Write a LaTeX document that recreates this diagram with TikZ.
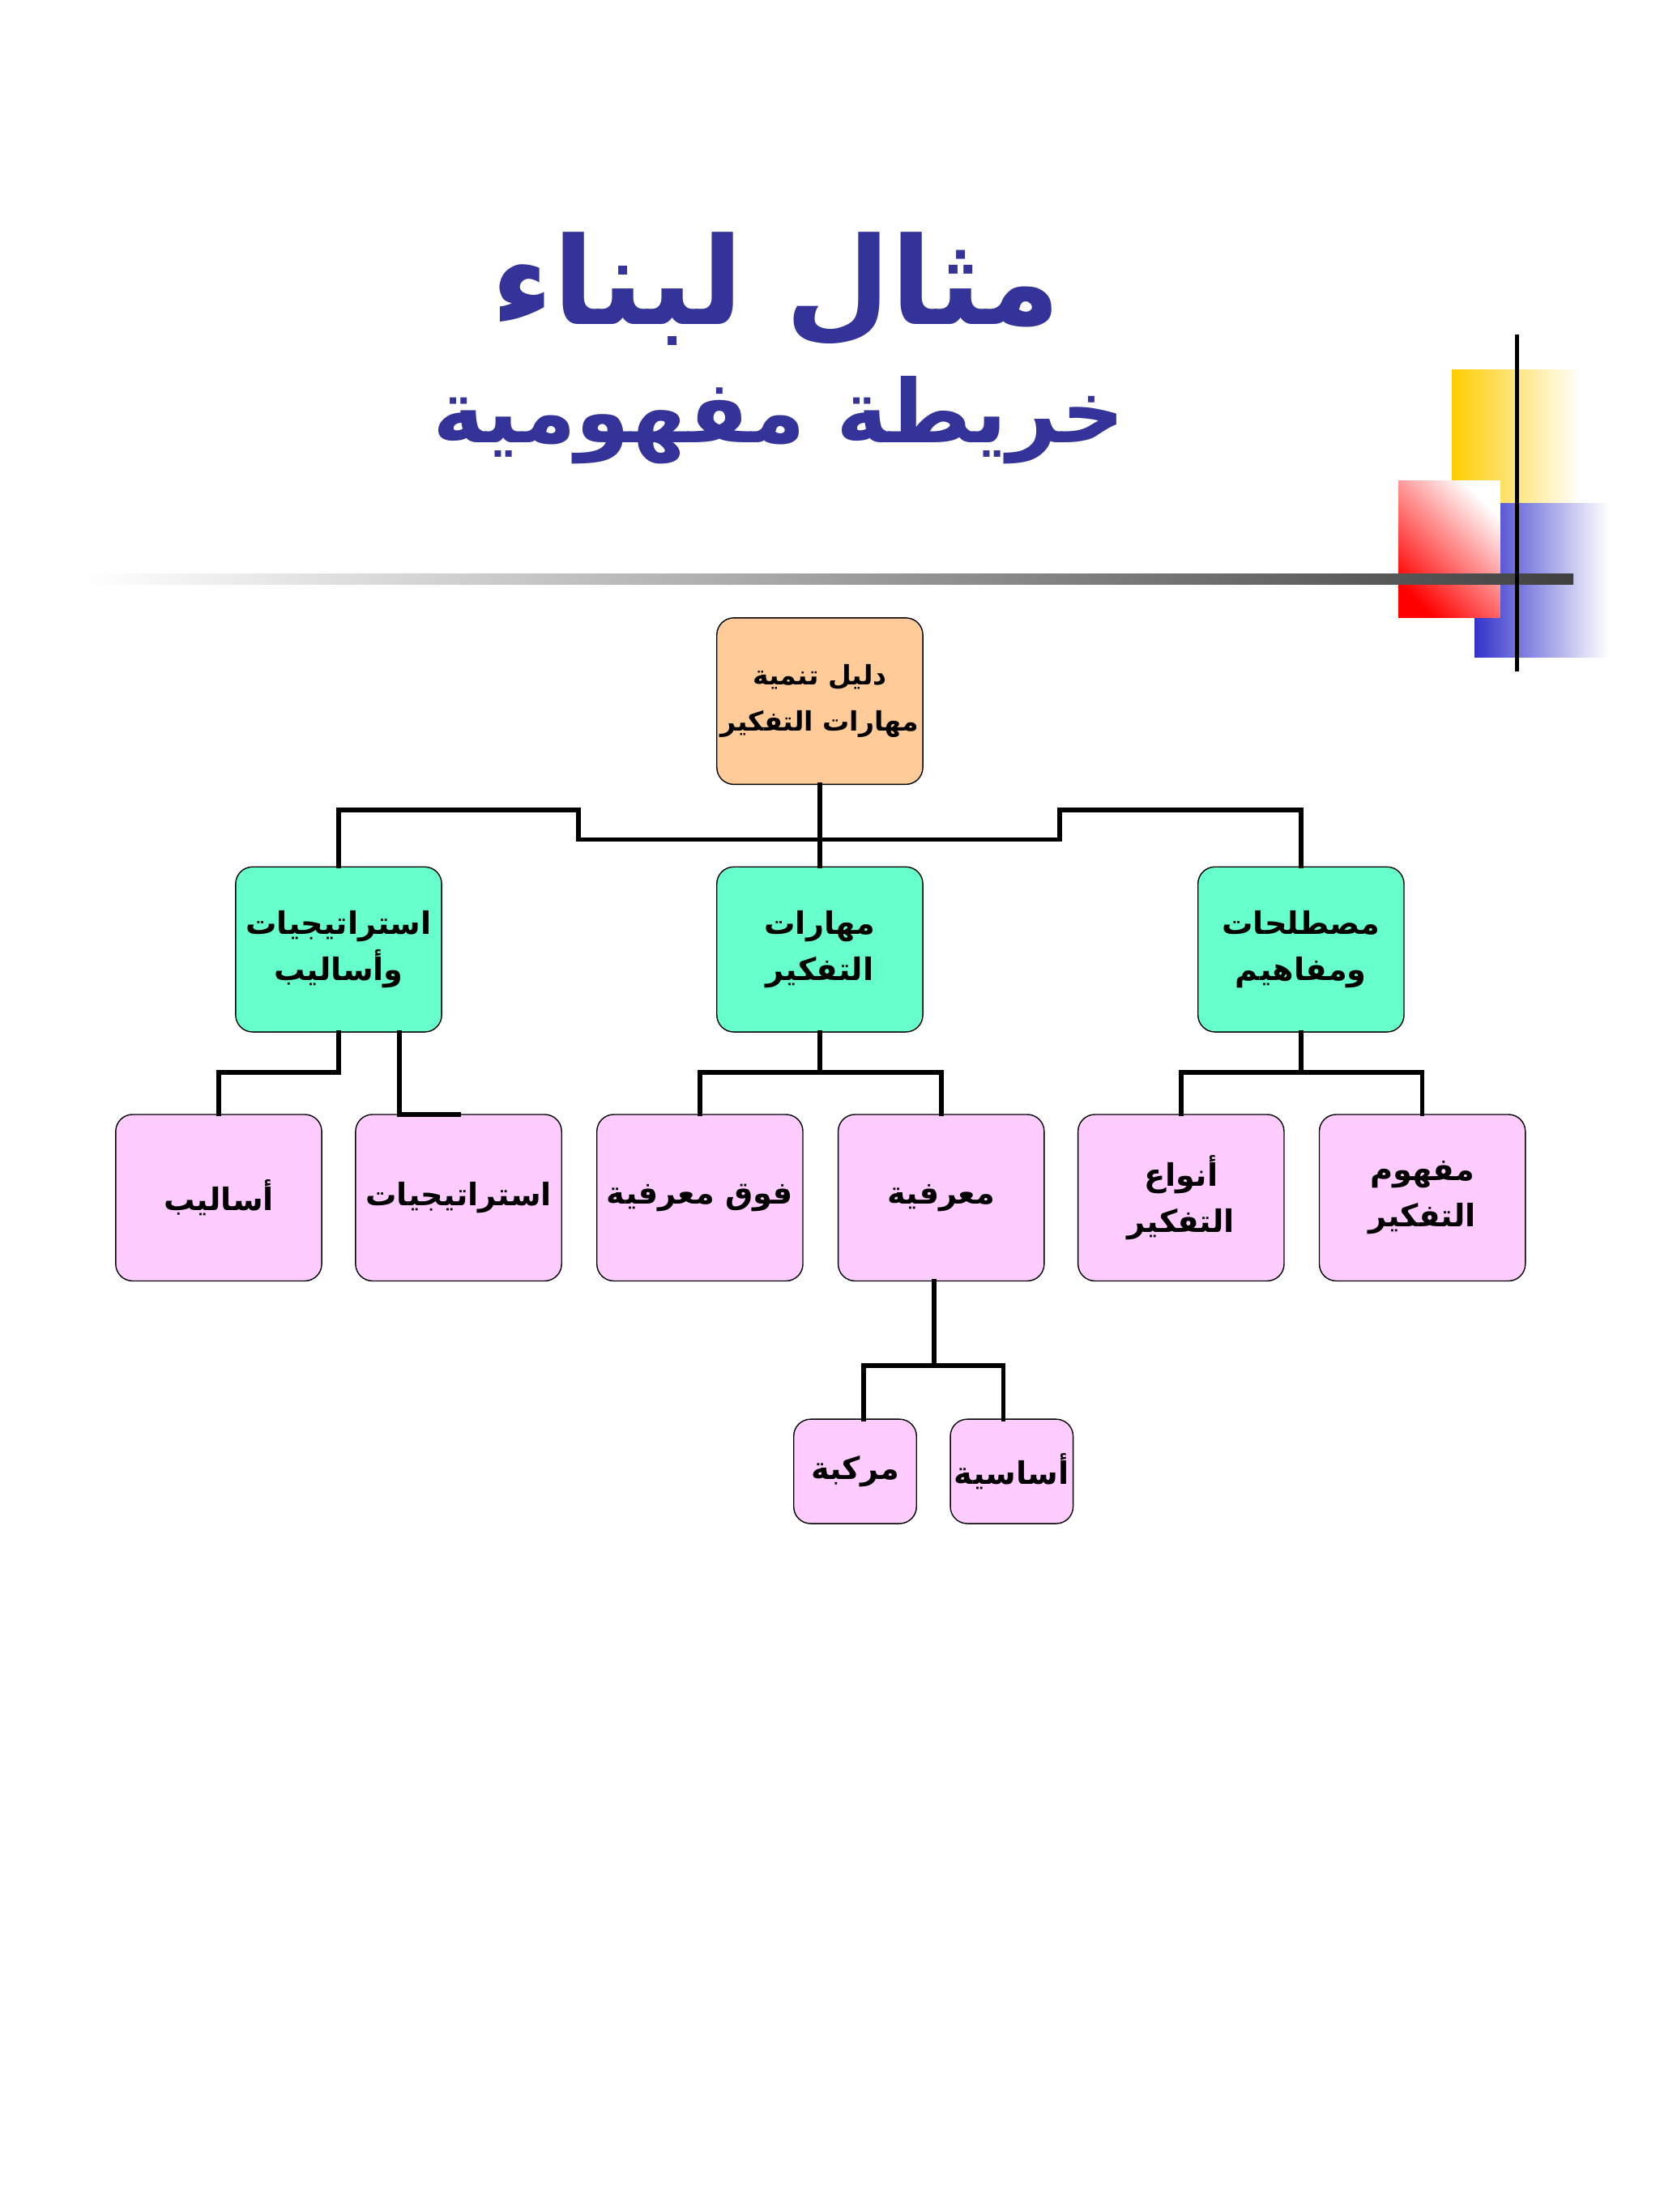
\documentclass[tikz,border=0pt]{standalone}
\usepackage{fontspec}
\newfontfamily\arabicfont[Script=Arabic]{DejaVu Sans}
\TeXXeTstate=1
\begin{document}
\begin{tikzpicture}[x=1pt,y=-1pt,
  box/.style={draw=black,rounded corners=12pt,line width=0.8pt,inner sep=0pt,align=center,font=\arabicfont\bfseries\fontsize{22}{33}\selectfont},
  conn/.style={line width=3.2pt,line cap=rect}]
\definecolor{ttl}{HTML}{333399}
\definecolor{orng}{HTML}{FFCC99}
\definecolor{grn}{HTML}{66FFCC}
\definecolor{pnk}{HTML}{FFCCFF}
\definecolor{yel}{HTML}{FFCC00}
\definecolor{blu}{HTML}{3333CC}
\useasboundingbox (0,0) rectangle (1176,1568);
\fill[white] (0,0) rectangle (1176,1568);
% title
\node (t1) at (550,205) {\arabicfont\bfseries\color{ttl}\fontsize{86}{95}\selectfont\beginR مثال لبناء\endR};
\node (t2) at (552,298) {\arabicfont\bfseries\color{ttl}\fontsize{62}{70}\selectfont\beginR خريطة مفهومية\endR};
% decoration
\shade[left color=yel,right color=white] (1029,262) rectangle (1120,357);
\shade[left color=blu,right color=white] (1045,357) rectangle (1140,466);
\shade[shading=axis,top color=white,bottom color=red,shading angle=-45] (991,341) rectangle (1063,438);
\shade[left color=white,right color=black!75] (60,407) rectangle (1115,414);
\draw[line width=2.5pt] (1075,237) -- (1075,476);
% nodes
\newcommand\bx[6]{\node[box,fill=#5,minimum width=#3pt,minimum height=#4pt] (#1) at #2 {#6};}
\bx{root}{(581,497)}{146}{118}{orng}{\fontsize{19}{32}\selectfont\beginR دليل تنمية\endR\\\fontsize{19}{32}\selectfont\beginR مهارات التفكير\endR}
\bx{l}{(240,673)}{146}{117}{grn}{\beginR استراتيجيات\endR\\\beginR وأساليب\endR}
\bx{m}{(581,673)}{146}{117}{grn}{\beginR مهارات\endR\\\beginR التفكير\endR}
\bx{r}{(922,673)}{146}{117}{grn}{\beginR مصطلحات\endR\\\beginR ومفاهيم\endR}
\bx{a}{(155,849)}{146}{118}{pnk}{\beginR أساليب\endR}
\bx{b}{(325,849)}{146}{118}{pnk}{\beginR استراتيجيات\endR}
\bx{c}{(496,849)}{146}{118}{pnk}{\beginR فوق معرفية\endR}
\bx{d}{(667,849)}{146}{118}{pnk}{\beginR معرفية\endR}
\bx{e}{(837,849)}{146}{118}{pnk}{\beginR أنواع\endR\\\beginR التفكير\endR}
\bx{f}{(1008,849)}{146}{118}{pnk}{\beginR مفهوم\endR\\\beginR التفكير\endR}
\bx{g}{(606,1043)}{87}{74}{pnk}{\beginR مركبة\endR}
\bx{h}{(717,1043)}{87}{74}{pnk}{\beginR أساسية\endR}
% connectors
\draw[conn] (root.south) -- (581,595) -| (410,574) -| (l.north);
\draw[conn] (581,595) -| (751,574) -| (r.north);
\draw[conn] (root.south) -- (m.north);
\draw[conn] (240,732) -- (240,760) -| (a.north);
\draw[conn] (283,732) -- (283,790) -- (325,790);
\draw[conn] (m.south) -- (581,760) -| (c.north);
\draw[conn] (581,760) -| (d.north);
\draw[conn] (r.south) -- (922,760) -| (e.north);
\draw[conn] (922,760) -| (f.north);
\draw[conn] (662,908) -- (662,968) -| (612,1006);
\draw[conn] (662,968) -| (711,1006);
\end{tikzpicture}
\end{document}
